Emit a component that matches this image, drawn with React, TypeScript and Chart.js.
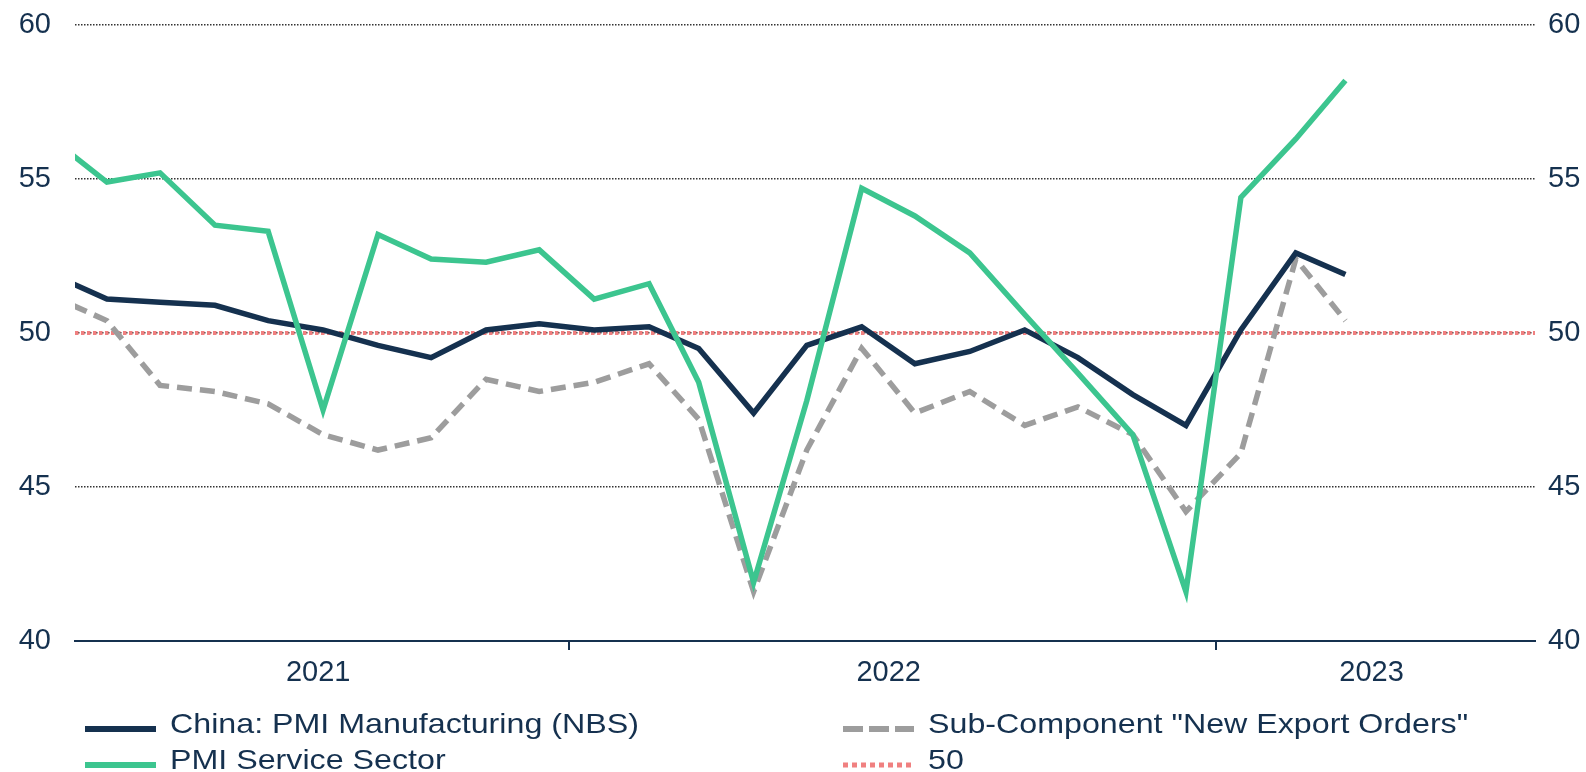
import React, { useEffect, useRef } from 'react';
import { Chart, registerables } from 'chart.js';

Chart.register(...registerables);

// ---------- Data ----------
const months = [
  '2021-03', '2021-04', '2021-05', '2021-06', '2021-07', '2021-08', '2021-09', '2021-10', '2021-11', '2021-12',
  '2022-01', '2022-02', '2022-03', '2022-04', '2022-05', '2022-06', '2022-07', '2022-08', '2022-09', '2022-10',
  '2022-11', '2022-12', '2023-01', '2023-02', '2023-03',
];
const manufacturing = [
  51.9, 51.1, 51.0, 50.9, 50.4, 50.1, 49.6, 49.2, 50.1, 50.3,
  50.1, 50.2, 49.5, 47.4, 49.6, 50.2, 49.0, 49.4, 50.1, 49.2,
  48.0, 47.0, 50.1, 52.6, 51.9,
];
const exportOrders = [
  51.2, 50.4, 48.3, 48.1, 47.7, 46.7, 46.2, 46.6, 48.5, 48.1,
  48.4, 49.0, 47.2, 41.6, 46.2, 49.5, 47.4, 48.1, 47.0, 47.6,
  46.7, 44.2, 46.1, 52.4, 50.4,
];
const services = [
  56.3, 54.9, 55.2, 53.5, 53.3, 47.5, 53.2, 52.4, 52.3, 52.7,
  51.1, 51.6, 48.4, 41.9, 47.8, 54.7, 53.8, 52.6, 50.6, 48.7,
  46.7, 41.6, 54.4, 56.3, 58.2,
];
const threshold = 50;
const seriesNames = [
  'China: PMI Manufacturing (NBS)',
  'Sub-Component "New Export Orders"',
  'PMI Service Sector',
  '50',
];
const yearLabels = ['2021', '2022', '2023'];
const axisStart = '2021-03-28';
const axisEnd = '2023-06-30';
const yMin = 40;
const yMax = 60;
const yStep = 5;

// ---------- Styles ----------
const NAVY = '#15314f';
const GREEN = '#3cc58f';
const GREY = '#9d9d9d';
const RED = '#f08080';
const GRID = '#333333';
const FONT = "'Liberation Sans', Arial, sans-serif";

const dayOf = (s: string) => {
  const p = s.split('-').map(Number);
  return Date.UTC(p[0], p[1] - 1, p[2] || 15) / 86400000;
};
const X_MIN = dayOf(axisStart);
const X_MAX = dayOf(axisEnd);
const yearStart = (y: string) => Date.UTC(Number(y), 0, 1) / 86400000;
const yearEnd = (y: string) => Date.UTC(Number(y) + 1, 0, 1) / 86400000;

const toPoints = (vals: number[]) => months.map((m, i) => ({ x: dayOf(m), y: vals[i] }));

const legendPlugin = {
  id: 'customDecor',
  afterDraw(chart: any) {
    const ctx = chart.ctx as CanvasRenderingContext2D;
    const xs = chart.scales.x;
    const area = chart.chartArea;
    ctx.save();
    // year labels centered in the visible part of each year
    ctx.fillStyle = NAVY;
    ctx.font = `29px ${FONT}`;
    ctx.textAlign = 'center';
    ctx.textBaseline = 'alphabetic';
    yearLabels.forEach((y) => {
      const a = Math.max(yearStart(y), xs.min);
      const b = Math.min(yearEnd(y), xs.max);
      const cx = (xs.getPixelForValue(a) + xs.getPixelForValue(b)) / 2;
      ctx.fillText(y, cx - 4, area.bottom + 40);
    });

    // legend
    const items = [
      { name: seriesNames[0], color: NAVY, dash: [] as number[], width: 6, col: 0, row: 0 },
      { name: seriesNames[1], color: GREY, dash: [20, 6], width: 6, col: 1, row: 0 },
      { name: seriesNames[2], color: GREEN, dash: [] as number[], width: 6, col: 0, row: 1 },
      { name: seriesNames[3], color: RED, dash: [5, 4], width: 5, col: 1, row: 1 },
    ];
    const colX = [85, 843];
    const rowY = [729, 765];
    const stretch = 1.13;
    ctx.font = `28.5px ${FONT}`;
    ctx.textAlign = 'left';
    items.forEach((it) => {
      const x0 = colX[it.col];
      const y0 = rowY[it.row];
      ctx.beginPath();
      ctx.setLineDash(it.dash);
      ctx.lineCap = 'butt';
      ctx.strokeStyle = it.color;
      ctx.lineWidth = it.width;
      ctx.moveTo(x0, y0);
      ctx.lineTo(x0 + 71, y0);
      ctx.stroke();
      ctx.setLineDash([]);
      ctx.fillStyle = NAVY;
      ctx.save();
      ctx.translate(x0 + 85, y0 + 3.5);
      ctx.scale(stretch, 1);
      ctx.fillText(it.name, 0, 0);
      ctx.restore();
    });
    ctx.restore();
  },
};

const noVerticalPadding = (scale: any) => {
  scale.paddingTop = 0;
  scale.paddingBottom = 0;
};

export default function App() {
  const ref = useRef<HTMLCanvasElement | null>(null);

  useEffect(() => {
    if (!ref.current) return;
    const chart = new Chart(ref.current, {
      type: 'line',
      data: {
        datasets: [
          {
            label: seriesNames[2],
            data: toPoints(services),
            borderColor: GREEN,
            borderWidth: 5.5,
            pointRadius: 0,
            tension: 0,
            order: 0,
          },
          {
            label: seriesNames[0],
            data: toPoints(manufacturing),
            borderColor: NAVY,
            borderWidth: 5.5,
            pointRadius: 0,
            tension: 0,
            order: 1,
          },
          {
            label: seriesNames[1],
            data: toPoints(exportOrders),
            borderColor: GREY,
            borderWidth: 5.5,
            borderDash: [15, 8],
            pointRadius: 0,
            tension: 0,
            order: 2,
          },
          {
            label: seriesNames[3],
            data: [
              { x: X_MIN, y: threshold },
              { x: X_MAX, y: threshold },
            ],
            borderColor: RED,
            borderWidth: 4,
            borderDash: [3.5, 2.5],
            pointRadius: 0,
            order: 3,
          },
        ],
      },
      options: {
        animation: false,
        responsive: false,
        devicePixelRatio: 1,
        layout: { padding: { top: 25, left: 0, right: 0, bottom: 0 } },
        plugins: {
          legend: { display: false },
          tooltip: { enabled: false },
        },
        scales: {
          x: {
            type: 'linear',
            position: 'bottom',
            min: X_MIN,
            max: X_MAX,
            afterBuildTicks: (scale: any) => {
              scale.ticks = yearLabels.slice(1).map((y) => ({ value: yearStart(y) }));
            },
            afterFit: (scale: any) => {
              scale.height = 131;
              scale.paddingLeft = 0;
              scale.paddingRight = 0;
            },
            ticks: { display: false },
            grid: {
              display: true,
              drawOnChartArea: false,
              drawTicks: true,
              tickLength: 9,
              color: NAVY,
              lineWidth: 2,
            },
            border: { display: true, color: NAVY, width: 2 },
          },
          y: {
            position: 'left',
            min: yMin,
            max: yMax,
            afterFit: (scale: any) => {
              scale.width = 75;
              noVerticalPadding(scale);
            },
            ticks: {
              stepSize: yStep,
              color: NAVY,
              font: { family: FONT, size: 29, lineHeight: 1 },
              padding: 24,
            },
            grid: {
              drawTicks: false,
              tickLength: 0,
              lineWidth: 1.5,
              color: (c: any) => (c.tick && c.tick.value === yMin ? 'rgba(0,0,0,0)' : GRID),
            },
            border: { display: false, dash: [1.5, 1.5] },
          },
          y2: {
            position: 'right',
            min: yMin,
            max: yMax,
            afterFit: (scale: any) => {
              scale.width = 51;
              noVerticalPadding(scale);
            },
            ticks: {
              stepSize: yStep,
              color: NAVY,
              font: { family: FONT, size: 29, lineHeight: 1 },
              padding: 13,
            },
            grid: { display: false, drawTicks: false, tickLength: 0 },
            border: { display: false },
          },
        },
      },
      plugins: [legendPlugin],
    });
    return () => chart.destroy();
  }, []);

  return (
    <div style={{ position: 'fixed', top: 0, left: 0, width: 1586, height: 772, overflow: 'hidden', background: '#fff' }}>
      <canvas ref={ref} width={1586} height={772} style={{ display: 'block' }} />
    </div>
  );
}
